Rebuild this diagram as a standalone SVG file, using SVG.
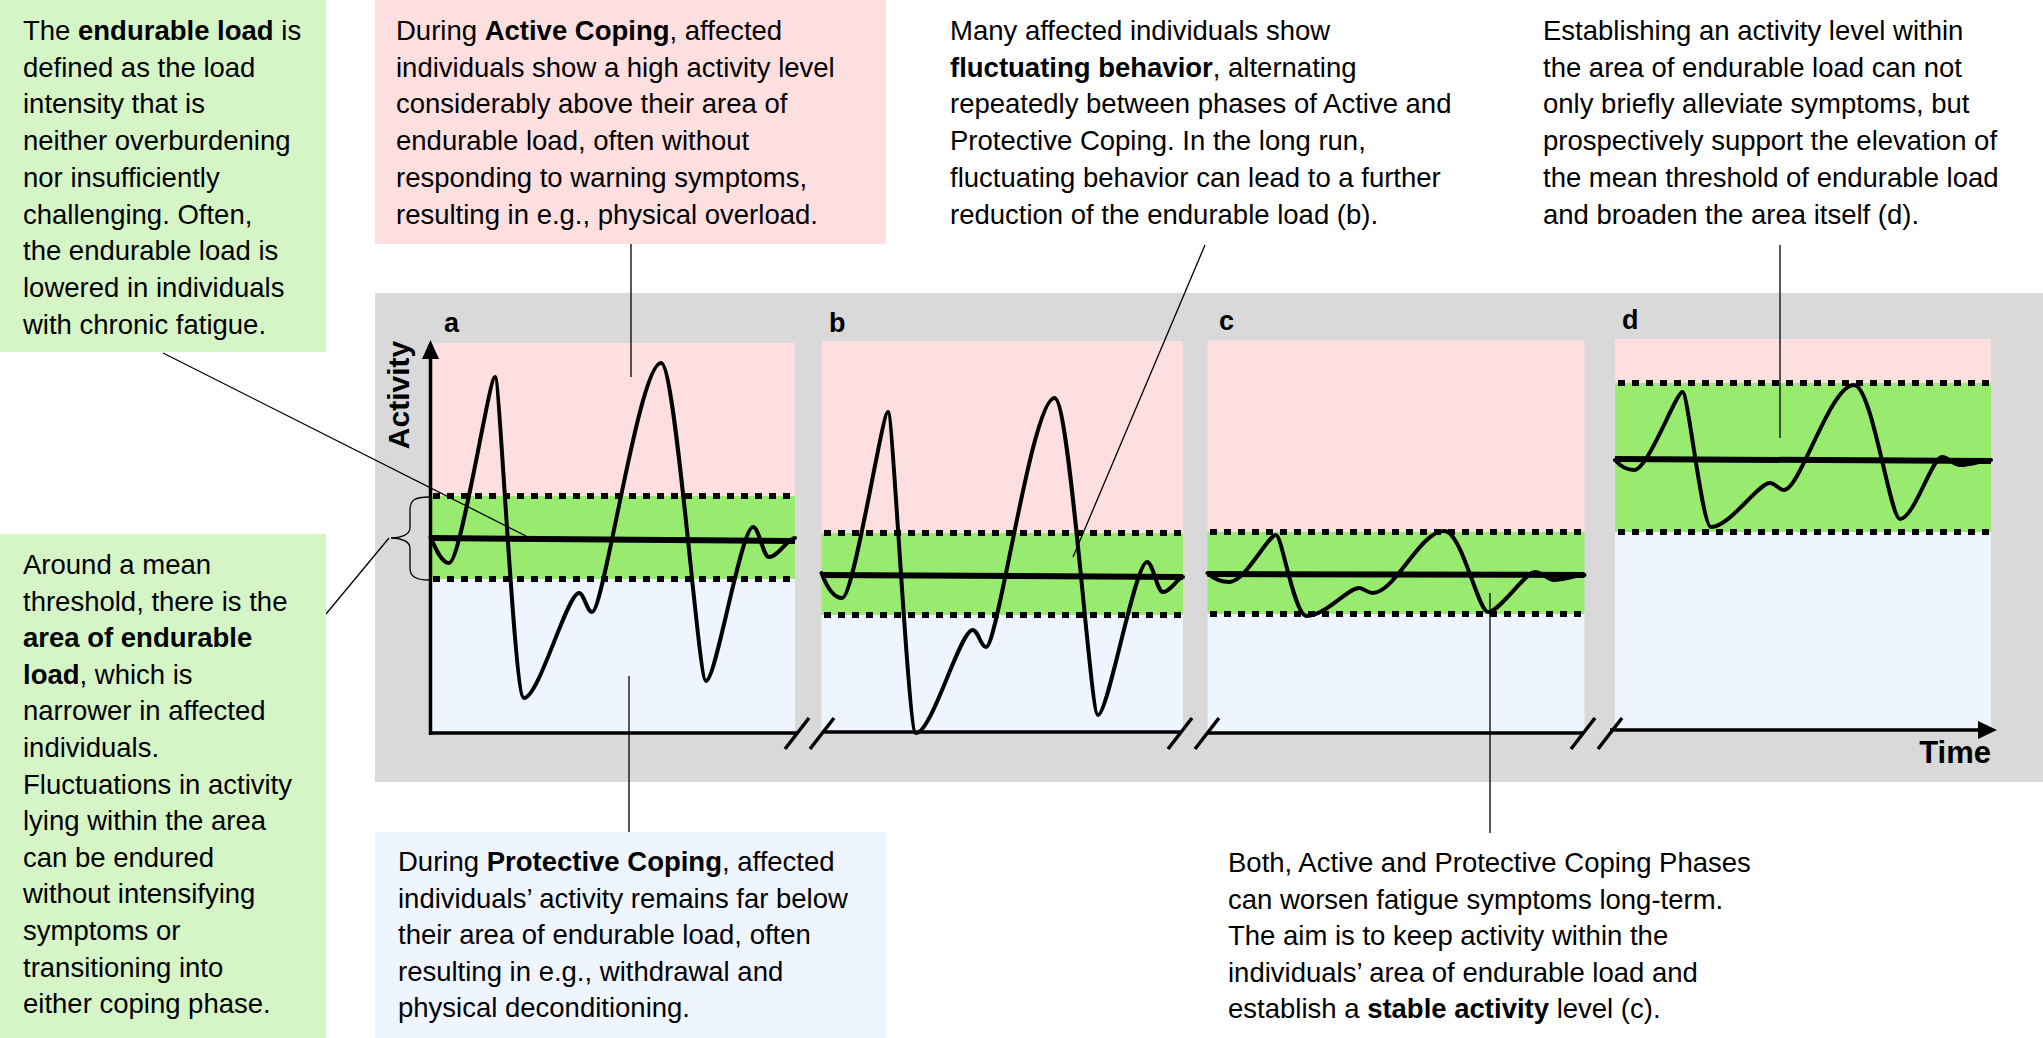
<svg xmlns="http://www.w3.org/2000/svg" width="2043" height="1038" viewBox="0 0 2043 1038">
<defs>
<style>
.txt{font-family:"Liberation Sans",Arial,sans-serif;font-size:27.5px;fill:#000}
.b{font-weight:bold}
.lbl{font-family:"Liberation Sans",Arial,sans-serif;font-weight:bold;fill:#000}
.pink{fill:#fddfdf}
.green{fill:#99eb70}
.blue{fill:#eef5fe}
.dot{stroke:#000;stroke-width:6;stroke-dasharray:7 7;fill:none}
.mean{stroke:#000;stroke-width:6;fill:none}
.curve{stroke:#000;stroke-width:4;fill:none;stroke-linejoin:round;stroke-linecap:round}
.axis{stroke:#000;stroke-width:3.5;fill:none}
.lead{stroke:#000;stroke-width:1.3;fill:none}
</style>
</defs>
<rect x="0" y="0" width="2043" height="1038" fill="#fff"/>
<rect id="bg" x="375" y="293" width="1668" height="489" fill="#d9d9d9"/>

<g id="panel-a">
<rect class="pink" x="430" y="343" width="365" height="153"/>
<rect class="green" x="430" y="496" width="365" height="83"/>
<rect class="blue" x="430" y="579" width="365" height="154"/>
<line class="dot" x1="433" y1="496" x2="795" y2="496"/>
<line class="dot" x1="433" y1="579" x2="795" y2="579"/>
<line class="mean" x1="430" y1="538" x2="795" y2="541"/>
<path class="curve" d="M430.5,537 C436,550 442,563 449,563 C461,563 489,377 495,377 C500,377 514,698 524,698 C539,698 567,593 579,593 C584,593 587,612 592,612 C604,612 639,363 661,363 C676,363 698,681 706,681 C716,681 741,527 753,527 C759,527 763,557 769,557 C778,557 788,538 795,538"/>
<text class="lbl" x="444" y="332" font-size="27">a</text>
</g>

<g id="panel-b">
<rect class="pink" x="821.5" y="341" width="361.5" height="192"/>
<rect class="green" x="821.5" y="533" width="361.5" height="82"/>
<rect class="blue" x="821.5" y="615" width="361.5" height="117"/>
<line class="dot" x1="824" y1="533" x2="1183" y2="533"/>
<line class="dot" x1="824" y1="615" x2="1183" y2="615"/>
<line class="mean" x1="821.5" y1="575" x2="1183" y2="577"/>
<path class="curve" d="M821.5,573 C828,590 835,598 842,598 C854,598 882,412 888,412 C893,412 908,733 916,733 C932,733 960,630 972.6,630 C978,630 981,647 986,647 C998,647 1032,398 1054.5,398 C1070,398 1090,715 1098,715 C1108,715 1135,562 1147,562 C1153,562 1157,592 1163,592 C1171,592 1178,577 1183,577"/>
<text class="lbl" x="829" y="332" font-size="27">b</text>
</g>

<g id="panel-c">
<rect class="pink" x="1207.5" y="340" width="377" height="192"/>
<rect class="green" x="1207.5" y="532" width="377" height="82"/>
<rect class="blue" x="1207.5" y="614" width="377" height="119"/>
<line class="dot" x1="1210" y1="532" x2="1584.5" y2="532"/>
<line class="dot" x1="1210" y1="614" x2="1584.5" y2="614"/>
<line class="mean" x1="1207.5" y1="574" x2="1584.5" y2="575"/>
<path class="curve" d="M1207.5,573 C1215,580 1222,582 1229.5,582 C1245,582 1268,535 1276,535 C1282,535 1294,616 1306.6,616 C1325,616 1348,588 1359,588 C1364,588 1367,593 1372.6,593 C1395,593 1420,531 1444,531 C1462,531 1478,612 1488,612 C1500,612 1525,572 1535,572 C1542,572 1548,580 1554,580 C1565,580 1575,575 1584.5,575"/>
<text class="lbl" x="1219" y="330" font-size="27">c</text>
</g>

<g id="panel-d">
<rect class="pink" x="1615" y="339" width="376" height="44"/>
<rect class="green" x="1615" y="383" width="376" height="149"/>
<rect class="blue" x="1615" y="532" width="376" height="196"/>
<line class="dot" x1="1618" y1="383" x2="1991" y2="383"/>
<line class="dot" x1="1618" y1="532" x2="1991" y2="532"/>
<line class="mean" x1="1615" y1="459" x2="1991" y2="461"/>
<path class="curve" d="M1615,460 C1621,467 1627,470 1634,470 C1648,470 1676,392 1682.5,392 C1688,392 1702,527 1711,527 C1730,527 1758,483 1770,483 C1775,483 1779,490 1784,490 C1800,490 1830,385 1854,385 C1872,385 1890,519 1900,519 C1914,519 1932,457 1942,457 C1948,457 1954,465 1960,465 C1972,465 1982,460 1991,460"/>
<text class="lbl" x="1622" y="329" font-size="27">d</text>
</g>

<g id="axes">
<line class="axis" x1="430.5" y1="735" x2="430.5" y2="355"/>
<polygon points="430.5,340 422,359 439,359" fill="#000"/>
<text class="lbl" font-size="30" transform="translate(409,395) rotate(-90)" text-anchor="middle">Activity</text>
<line class="axis" x1="429" y1="733" x2="797" y2="733"/>
<line class="axis" x1="822" y1="732" x2="1180" y2="732"/>
<line class="axis" x1="1207" y1="733" x2="1583" y2="733"/>
<line class="axis" x1="1610" y1="730" x2="1982" y2="730"/>
<polygon points="1997,730 1978,721 1978,739" fill="#000"/>
<g class="axis">
<line x1="809" y1="718" x2="785" y2="749"/>
<line x1="834" y1="718" x2="810" y2="749"/>
<line x1="1192" y1="718" x2="1168" y2="749"/>
<line x1="1219" y1="718" x2="1195" y2="749"/>
<line x1="1595" y1="718" x2="1571" y2="749"/>
<line x1="1622" y1="718" x2="1598" y2="749"/>
</g>
<text class="lbl" x="1991" y="763" font-size="31" text-anchor="end">Time</text>
</g>

<g id="connectors">
<line class="lead" x1="163" y1="353" x2="526" y2="536"/>
<line class="lead" x1="631" y1="244" x2="631" y2="377"/>
<line class="lead" x1="1205" y1="245" x2="1073" y2="557"/>
<line class="lead" x1="1780" y1="245" x2="1780" y2="438"/>
<line class="lead" x1="326" y1="614" x2="389" y2="538"/>
<path class="lead" d="M429,497 C415,497 410,500 410,510 V528 C410,535 400,538 391,538 C400,538 410,541 410,548 V568 C410,576 415,580 429,580"/>
<line class="lead" x1="629" y1="676" x2="629" y2="832"/>
<line class="lead" x1="1490" y1="593" x2="1490" y2="833"/>
</g>

<g id="note-endurable-load">
<rect x="0" y="0" width="326" height="352" fill="#d5f5c6"/>
<text class="txt" x="23" y="40">
<tspan x="23">The <tspan class="b">endurable load</tspan> is</tspan>
<tspan x="23" dy="36.7">defined as the load</tspan>
<tspan x="23" dy="36.7">intensity that is</tspan>
<tspan x="23" dy="36.7">neither overburdening</tspan>
<tspan x="23" dy="36.7">nor insufficiently</tspan>
<tspan x="23" dy="36.7">challenging. Often,</tspan>
<tspan x="23" dy="36.7">the endurable load is</tspan>
<tspan x="23" dy="36.7">lowered in individuals</tspan>
<tspan x="23" dy="36.7">with chronic fatigue.</tspan>
</text>
</g>

<g id="note-active-coping">
<rect x="375" y="0" width="511" height="244" fill="#fddfdf"/>
<text class="txt" x="396" y="40">
<tspan x="396">During <tspan class="b">Active Coping</tspan>, affected</tspan>
<tspan x="396" dy="36.7">individuals show a high activity level</tspan>
<tspan x="396" dy="36.7">considerably above their area of</tspan>
<tspan x="396" dy="36.7">endurable load, often without</tspan>
<tspan x="396" dy="36.7">responding to warning symptoms,</tspan>
<tspan x="396" dy="36.7">resulting in e.g., physical overload.</tspan>
</text>
</g>

<g id="note-fluctuating">
<text class="txt" x="950" y="40">
<tspan x="950">Many affected individuals show</tspan>
<tspan x="950" dy="36.7"><tspan class="b">fluctuating behavior</tspan>, alternating</tspan>
<tspan x="950" dy="36.7">repeatedly between phases of Active and</tspan>
<tspan x="950" dy="36.7">Protective Coping. In the long run,</tspan>
<tspan x="950" dy="36.7">fluctuating behavior can lead to a further</tspan>
<tspan x="950" dy="36.7">reduction of the endurable load (b).</tspan>
</text>
</g>

<g id="note-establishing">
<text class="txt" x="1543" y="40">
<tspan x="1543">Establishing an activity level within</tspan>
<tspan x="1543" dy="36.7">the area of endurable load can not</tspan>
<tspan x="1543" dy="36.7">only briefly alleviate symptoms, but</tspan>
<tspan x="1543" dy="36.7">prospectively support the elevation of</tspan>
<tspan x="1543" dy="36.7">the mean threshold of endurable load</tspan>
<tspan x="1543" dy="36.7">and broaden the area itself (d).</tspan>
</text>
</g>

<g id="note-area">
<rect x="0" y="534" width="326" height="504" fill="#d5f5c6"/>
<text class="txt" x="23" y="574">
<tspan x="23">Around a mean</tspan>
<tspan x="23" dy="36.6">threshold, there is the</tspan>
<tspan x="23" dy="36.6" class="b">area of endurable</tspan>
<tspan x="23" dy="36.6"><tspan class="b">load</tspan>, which is</tspan>
<tspan x="23" dy="36.6">narrower in affected</tspan>
<tspan x="23" dy="36.6">individuals.</tspan>
<tspan x="23" dy="36.6">Fluctuations in activity</tspan>
<tspan x="23" dy="36.6">lying within the area</tspan>
<tspan x="23" dy="36.6">can be endured</tspan>
<tspan x="23" dy="36.6">without intensifying</tspan>
<tspan x="23" dy="36.6">symptoms or</tspan>
<tspan x="23" dy="36.6">transitioning into</tspan>
<tspan x="23" dy="36.6">either coping phase.</tspan>
</text>
</g>

<g id="note-protective-coping">
<rect x="375" y="832" width="511" height="206" fill="#eef5fe"/>
<text class="txt" x="398" y="871">
<tspan x="398">During <tspan class="b">Protective Coping</tspan>, affected</tspan>
<tspan x="398" dy="36.6">individuals’ activity remains far below</tspan>
<tspan x="398" dy="36.6">their area of endurable load, often</tspan>
<tspan x="398" dy="36.6">resulting in e.g., withdrawal and</tspan>
<tspan x="398" dy="36.6">physical deconditioning.</tspan>
</text>
</g>

<g id="note-stable">
<text class="txt" x="1228" y="872">
<tspan x="1228">Both, Active and Protective Coping Phases</tspan>
<tspan x="1228" dy="36.6">can worsen fatigue symptoms long-term.</tspan>
<tspan x="1228" dy="36.6">The aim is to keep activity within the</tspan>
<tspan x="1228" dy="36.6">individuals’ area of endurable load and</tspan>
<tspan x="1228" dy="36.6">establish a <tspan class="b">stable activity</tspan> level (c).</tspan>
</text>
</g>
</svg>
